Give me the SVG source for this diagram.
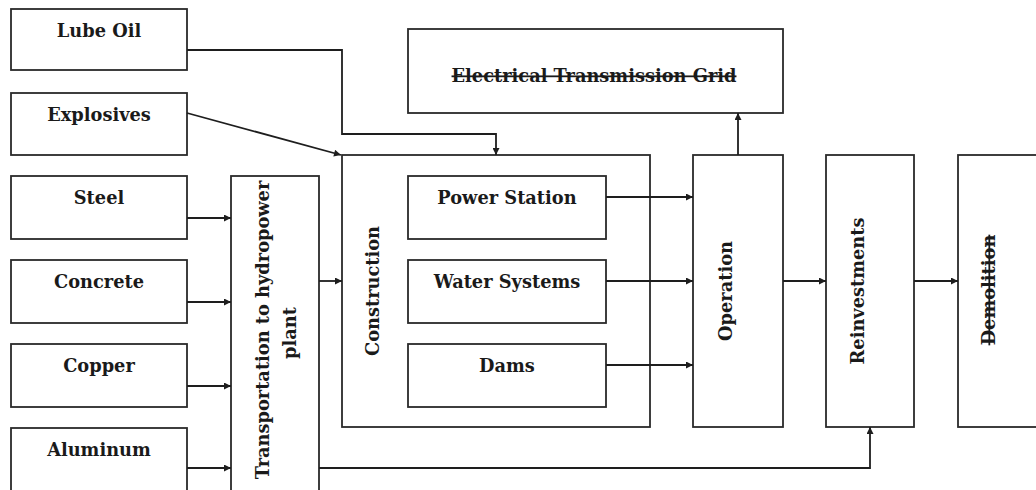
<svg xmlns="http://www.w3.org/2000/svg" width="1036" height="490" viewBox="0 0 1036 490">
<style>
.box{fill:#fff;stroke:#2a2a2a;stroke-width:1.8}
.t{font-family:"DejaVu Serif","Liberation Serif",serif;font-weight:bold;font-size:17.8px;fill:#1a1a1a;text-anchor:middle}
.c{fill:none;stroke:#1e1e1e;stroke-width:1.8}
.s{text-decoration:line-through}
</style>
<defs>
<marker id="ah" viewBox="0 0 10 10" refX="10" refY="5" markerWidth="9" markerHeight="7" markerUnits="userSpaceOnUse" orient="auto">
<path d="M0,0 L10,5 L0,10 z" fill="#1e1e1e"/>
</marker>
</defs>
<rect width="1036" height="490" fill="#fff"/>
<g id="lube-oil"><rect class="box" x="11" y="9" width="176" height="61"/><text class="t" x="99" y="37">Lube Oil</text></g>
<g id="explosives"><rect class="box" x="11" y="93" width="176" height="62"/><text class="t" x="99" y="121">Explosives</text></g>
<g id="steel"><rect class="box" x="11" y="176" width="176" height="63"/><text class="t" x="99" y="204">Steel</text></g>
<g id="concrete"><rect class="box" x="11" y="260" width="176" height="63"/><text class="t" x="99" y="288">Concrete</text></g>
<g id="copper"><rect class="box" x="11" y="344" width="176" height="63"/><text class="t" x="99" y="372">Copper</text></g>
<g id="aluminum"><rect class="box" x="11" y="428" width="176" height="70"/><text class="t" x="99" y="456">Aluminum</text></g>
<g id="transportation"><rect class="box" x="231" y="176" width="88" height="320"/><text class="t" transform="translate(269,330) rotate(-90)" x="0" y="0">Transportation to hydropower</text><text class="t" transform="translate(296,333) rotate(-90)" x="0" y="0">plant</text></g>
<g id="grid"><rect class="box" x="408" y="29" width="375" height="84"/><text class="t s" x="594" y="82">Electrical Transmission Grid</text></g>
<g id="construction"><rect class="box" x="342" y="155" width="308" height="272"/><text class="t" transform="translate(379,291) rotate(-90)" x="0" y="0">Construction</text></g>
<g id="power-station"><rect class="box" x="408" y="176" width="198" height="63"/><text class="t" x="507" y="204">Power Station</text></g>
<g id="water-systems"><rect class="box" x="408" y="260" width="198" height="63"/><text class="t" x="507" y="288">Water Systems</text></g>
<g id="dams"><rect class="box" x="408" y="344" width="198" height="63"/><text class="t" x="507" y="372">Dams</text></g>
<g id="operation"><rect class="box" x="693" y="155" width="90" height="272"/><text class="t" transform="translate(732,291) rotate(-90)" x="0" y="0">Operation</text></g>
<g id="reinvestments"><rect class="box" x="826" y="155" width="88" height="272"/><text class="t" transform="translate(864,291) rotate(-90)" x="0" y="0">Reinvestments</text></g>
<g id="demolition"><rect class="box" x="958" y="155" width="90" height="272"/><text class="t s" transform="translate(995,290) rotate(-90)" x="0" y="0">Demolition</text></g>
<g id="connectors">
<polyline class="c" points="187,50 342,50 342,134 496,134 496,155" marker-end="url(#ah)"/>
<line class="c" x1="187" y1="113" x2="341" y2="155" marker-end="url(#ah)"/>
<line class="c" x1="187" y1="218" x2="231" y2="218" marker-end="url(#ah)"/>
<line class="c" x1="187" y1="302" x2="231" y2="302" marker-end="url(#ah)"/>
<line class="c" x1="187" y1="386" x2="231" y2="386" marker-end="url(#ah)"/>
<line class="c" x1="187" y1="468" x2="231" y2="468" marker-end="url(#ah)"/>
<line class="c" x1="319" y1="281" x2="342" y2="281" marker-end="url(#ah)"/>
<polyline class="c" points="319,468 870,468 870,427" marker-end="url(#ah)"/>
<line class="c" x1="606" y1="197" x2="693" y2="197" marker-end="url(#ah)"/>
<line class="c" x1="606" y1="281" x2="693" y2="281" marker-end="url(#ah)"/>
<line class="c" x1="606" y1="365" x2="693" y2="365" marker-end="url(#ah)"/>
<line class="c" x1="738" y1="155" x2="738" y2="113" marker-end="url(#ah)"/>
<line class="c" x1="783" y1="281" x2="826" y2="281" marker-end="url(#ah)"/>
<line class="c" x1="914" y1="281" x2="958" y2="281" marker-end="url(#ah)"/>
</g>
</svg>
